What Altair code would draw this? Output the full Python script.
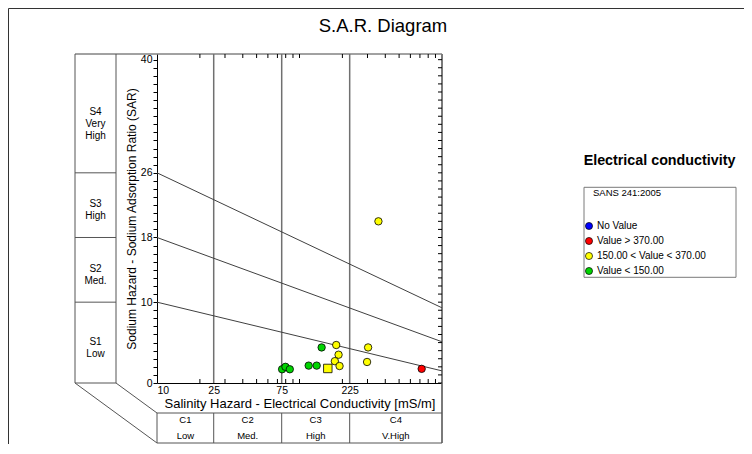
import altair as alt
import pandas as pd

# ---------------- data ----------------
ec_values = [75.5, 79.7, 85.5, 116, 132, 143, 181, 188, 177, 191, 303, 298, 158, 358, 720]
sar_values = [1.7, 2.0, 1.7, 2.15, 2.15, 4.4, 4.7, 3.5, 2.7, 2.1, 4.4, 2.6, 1.8, 20.0, 1.75]
ec_classes = (["Value < 150.00"] * 6 + ["150.00 < Value < 370.00"] * 8 + ["Value > 370.00"])
markers = ["circle"] * 12 + ["square"] + ["circle"] * 2

legend_labels = ["No Value", "Value > 370.00", "150.00 < Value < 370.00", "Value < 150.00"]
legend_colors = ["#0000ff", "#ff0000", "#ffff00", "#00d400"]

boundary_names = ["S1/S2", "S1/S2", "S2/S3", "S2/S3", "S3/S4", "S3/S4"]
boundary_ec = [10, 1000, 10, 1000, 10, 1000]
boundary_sar = [10, 1.5, 18, 5.1, 26, 9.3]

x_tick_labels = [10, 25, 75, 225]
x_minor_ticks = [20, 30, 40, 50, 60, 70, 80, 90, 100, 200, 300, 400, 500, 600, 700, 800, 900]
y_ticks = list(range(0, 41))
y_tick_labels = [0, 10, 18, 26, 40]

c_bounds = [10, 25, 75, 225, 1000]
c_labels = ["C1\nLow", "C2\nMed.", "C3\nHigh", "C4\nV.High"]
s_bounds = [0, 10, 18, 26, 40.7]
s_labels = ["S1\nLow", "S2\nMed.", "S3\nHigh", "S4\nVery\nHigh"]

# ---------------- tables ----------------
pts = pd.DataFrame({"ec": ec_values, "sar": sar_values, "cls": ec_classes, "marker": markers})
bnd = pd.DataFrame({"name": boundary_names, "ec": boundary_ec, "sar": boundary_sar})
c_df = pd.DataFrame({
    "label": c_labels,
    "mid": [(c_bounds[i] * c_bounds[i + 1]) ** 0.5 for i in range(4)],
})
s_df = pd.DataFrame({
    "label": s_labels,
    "mid": [(s_bounds[i] + s_bounds[i + 1]) / 2 for i in range(4)],
})
one = pd.DataFrame({"a": [0]})

W, H = 285, 329
FONT = "Liberation Sans"
LINE = "#555555"

xs = alt.Scale(type="log", domain=[10, 1000], nice=False)
ys = alt.Scale(domain=[0, 40.7], nice=False, zero=False)

label_expr = "indexof([" + ",".join(str(v) for v in y_tick_labels) + "], datum.value) >= 0 ? datum.label : ''"

XAXIS = alt.Axis(
    values=x_tick_labels, format="d", tickSize=0, labelPadding=2, labelFont=FONT,
    labelFontSize=10.5, labelColor="black", domainColor="black",
    title="Salinity Hazard - Electrical Conductivity [mS/m]", titleFont=FONT,
    titleFontSize=13, titleFontWeight="normal", titleColor="black",
    titleY=20.5, titleBaseline="middle", grid=False)
YAXIS = alt.Axis(
    values=y_ticks, labelExpr=label_expr,
    labelOverlap=False, tickSize=4, tickColor="black", labelPadding=1, labelFont=FONT,
    labelFontSize=10.5, labelColor="black", domainColor="black",
    title="Sodium Hazard - Sodium Adsorption Ratio (SAR)", titleFont=FONT,
    titleFontSize=12, titleFontWeight="normal", titleColor="black",
    titleX=-25.5, titleY=H / 2, titleBaseline="middle", titleAlign="center", grid=False)


def X(field):
    return alt.X(field, type="quantitative", scale=xs, axis=XAXIS)


def Y(field):
    return alt.Y(field, type="quantitative", scale=ys, axis=YAXIS)


def hrule(x1, x2, y, color=LINE, w=1):
    return alt.Chart(one).mark_rule(color=color, strokeWidth=w).encode(
        x=alt.value(x1), x2=alt.value(x2), y=alt.value(y))


def vrule(x, y1, y2, color=LINE, w=1):
    return alt.Chart(one).mark_rule(color=color, strokeWidth=w).encode(
        x=alt.value(x), y=alt.value(y1), y2=alt.value(y2))


def seg(x1, y1, x2, y2, color=LINE, w=1):
    return alt.Chart(one).mark_rule(color=color, strokeWidth=w).encode(
        x=alt.value(x1), y=alt.value(y1), x2=alt.value(x2), y2=alt.value(y2))


def label(txt, x, y, size, weight="normal", align="center", baseline="middle"):
    return alt.Chart(one).mark_text(text=txt, font=FONT, fontSize=size, fontWeight=weight,
                                    align=align, baseline=baseline, color="black").encode(
        x=alt.value(x), y=alt.value(y))


# class vertical lines in plot
cls_lines = alt.Chart(pd.DataFrame({"ec": x_tick_labels[1:]})).mark_rule(
    color="#707070", strokeWidth=1.5).encode(
    x=X("ec"), y=alt.value(0), y2=alt.value(H))

# bottom table verticals
c_verts = alt.Chart(pd.DataFrame({"ec": c_bounds[:-1]})).mark_rule(
    color=LINE, strokeWidth=1).encode(
    x=X("ec"), y=alt.value(359), y2=alt.value(389))

# SAR boundary lines
sar_lines = alt.Chart(bnd).mark_line(color="#404040", strokeWidth=1, clip=True).encode(
    x=X("ec"), y=Y("sar"), detail="name:N")

# minor ticks
xt = pd.DataFrame({"ec": x_minor_ticks})
x_ticks_bot = alt.Chart(xt).mark_rule(color="black").encode(
    x=X("ec"), y=alt.value(H - 4), y2=alt.value(H))
x_ticks_top = alt.Chart(xt).mark_rule(color="black").encode(
    x=X("ec"), y=alt.value(0), y2=alt.value(4))
y_ticks_right = alt.Chart(pd.DataFrame({"sar": y_ticks})).mark_rule(color="black").encode(
    y=Y("sar"), x=alt.value(W - 4), x2=alt.value(W))

# left table dividers
s_divs = alt.Chart(pd.DataFrame({"sar": s_bounds[:-1]})).mark_rule(color=LINE).encode(
    y=Y("sar"), x=alt.value(-82), x2=alt.value(-41))

# texts in tables (first line placed at y, following lines below)
c_text = alt.Chart(c_df).mark_text(font=FONT, fontSize=9.5, lineBreak="\n", lineHeight=16,
                                   align="center", baseline="middle", color="black").encode(
    x=X("mid"), y=alt.value(366), text="label:N")
s_text = alt.Chart(s_df).mark_text(font=FONT, fontSize=10, lineBreak="\n", lineHeight=12,
                                   align="center", baseline="top", dy=-6, color="black").encode(
    y=Y("mid"), x=alt.value(-61.5), text="label:N")

# points
points = alt.Chart(pts).mark_point(filled=True, stroke="black", strokeWidth=0.8, opacity=1).encode(
    x=X("ec"),
    y=Y("sar"),
    fill=alt.Fill("cls:N", scale=alt.Scale(domain=legend_labels, range=legend_colors),
                  legend=alt.Legend(orient="none", legendX=427, legendY=167, title=None,
                                    labelFont=FONT, labelFontSize=10, labelColor="black",
                                    symbolType="circle", symbolSize=50, symbolStrokeColor="black",
                                    symbolStrokeWidth=0.7, rowPadding=5, labelOffset=3,
                                    padding=0)),
    shape=alt.Shape("marker:N", scale=alt.Scale(domain=["circle", "square"],
                                                 range=["circle", "square"]), legend=None),
    size=alt.Size("marker:N", scale=alt.Scale(domain=["circle", "square"], range=[55, 72]),
                  legend=None),
)

legend_box = alt.Chart(one).mark_rect(fillOpacity=0, stroke="#7a7a7a", strokeWidth=1).encode(
    x=alt.value(427), x2=alt.value(579), y=alt.value(133.3), y2=alt.value(223.3))

layers = [
    # outer page frame
    hrule(-148.5, 600, -45.5, color="#333333"),
    vrule(-148.5, -45.5, 400, color="#333333"),
    # plot frame
    hrule(-82, W, 0, color="#444444"),
    vrule(W, 0, 389, color="#7a7a7a", w=2),
    cls_lines,
    # left table
    vrule(-82, 0, H), vrule(-41, 0, H), s_divs,
    seg(-82, H, 0, 389), seg(-41, H, 0, 359),
    # bottom table
    hrule(0, W, 359), hrule(0, W, 389), c_verts,
    sar_lines, x_ticks_bot, x_ticks_top, y_ticks_right,
    c_text, s_text,
    label("S.A.R. Diagram", 226, -28, 18.5),
    label("Electrical conductivity", 502.5, 106.7, 14.3, weight="bold"),
    label("SANS 241:2005", 436, 139, 9.5, align="left"),
    legend_box,
    points,
]

chart = alt.layer(*layers).properties(
    width=W, height=H,
    autosize=alt.AutoSizeParams(type="none"),
    padding={"left": 149, "top": 46, "right": 302, "bottom": 61},
    background="white",
).configure_view(stroke=None)

chart.save("out.html", embed_options={"renderer": "svg", "actions": False})
